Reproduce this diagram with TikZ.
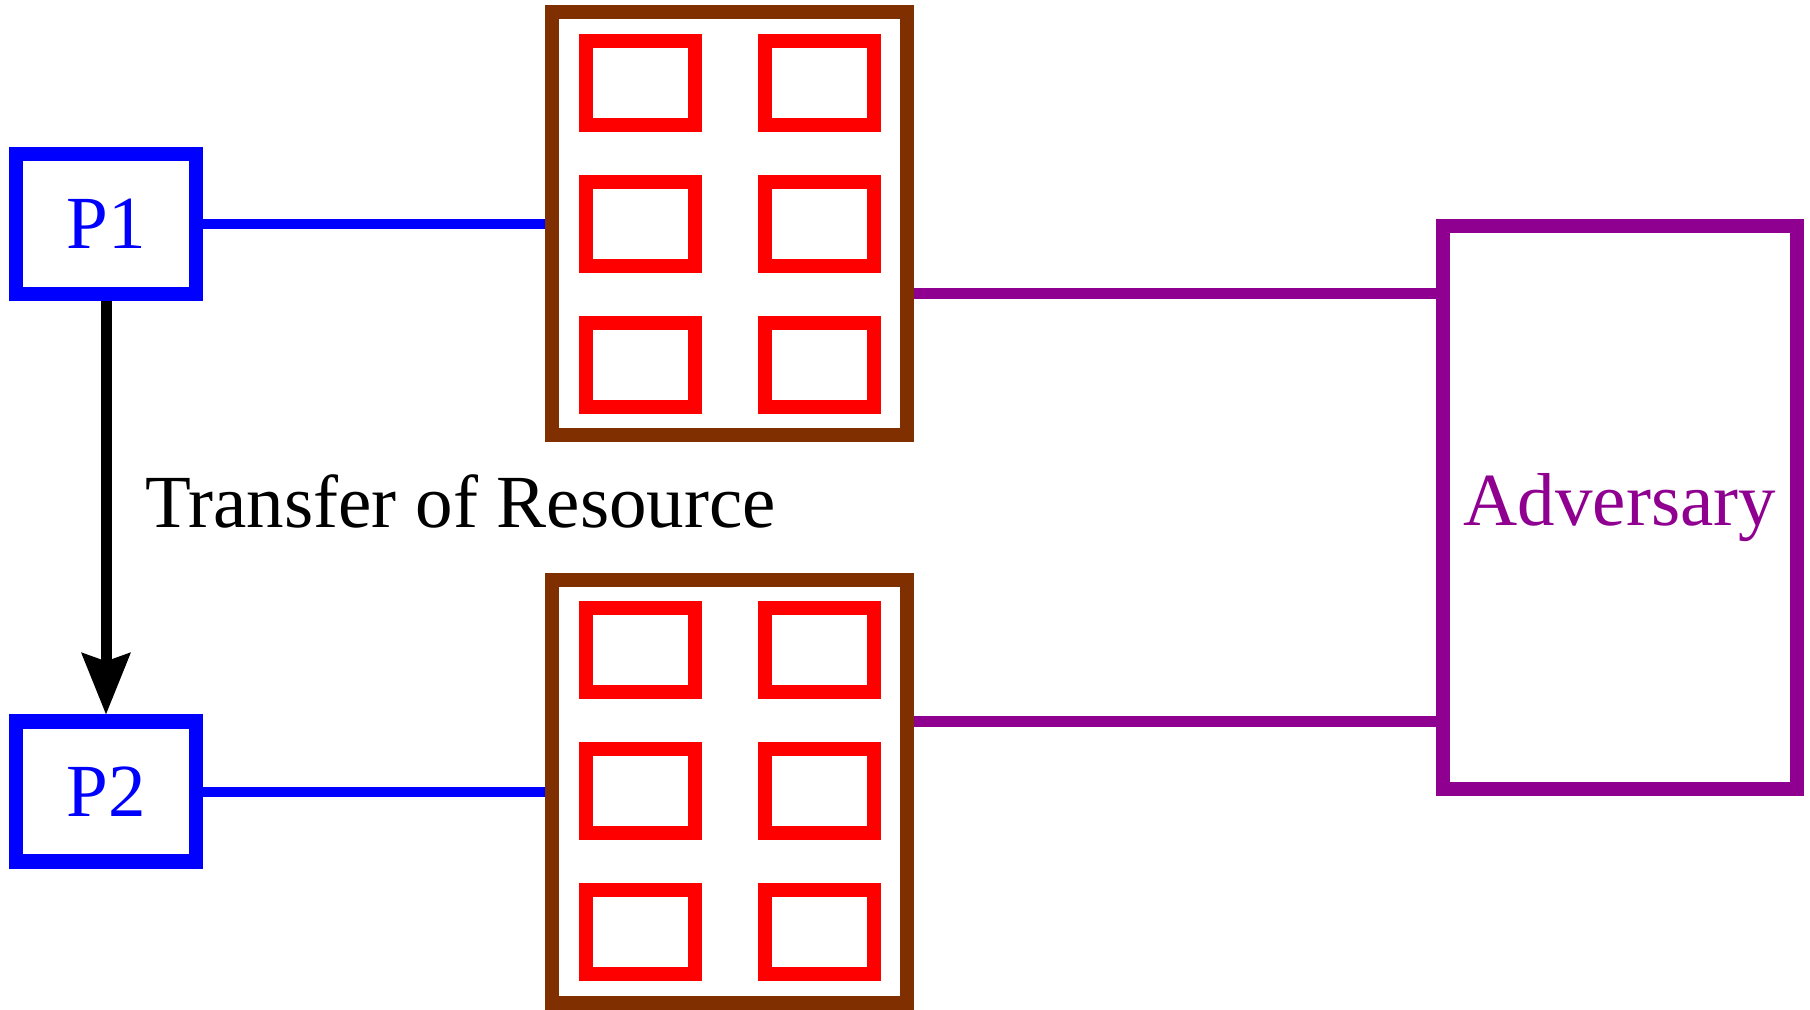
\documentclass[tikz,border=0pt]{standalone}
\usepackage{fontspec}
\setmainfont{Liberation Serif}
\usetikzlibrary{arrows.meta}
\usetikzlibrary{positioning}
\usetikzlibrary{calc}

\definecolor{poolbrown}{RGB}{128,48,0}
\definecolor{advpurple}{RGB}{144,0,144}
\newcommand{\figfont}{\fontsize{37.5pt}{45pt}\selectfont}

\begin{document}
\begin{tikzpicture}[auto,node distance=2cm,
  party node/.style={rectangle,draw=blue,line width=7.25pt,minimum width=90pt,minimum height=70pt,inner sep=0pt,text=blue,font=\figfont},
  pool node/.style={rectangle,draw=poolbrown,line width=7pt,minimum width=177.5pt,minimum height=211.5pt,inner sep=0pt},
  slot node/.style={rectangle,draw=red,line width=7pt,minimum width=54.5pt,minimum height=42pt,inner sep=0pt},
  adv node/.style={rectangle,draw=advpurple,line width=7pt,minimum width=176.75pt,minimum height=281.5pt,inner sep=0pt,text=advpurple,font=\figfont}]

  \useasboundingbox (0,0) rectangle (905pt,-505pt);

  \node[party node] (P1) at (53pt,-112pt) {P1};
  \node[party node] (P2) [below = 206.5pt of P1] {P2};
  \node[pool node] (RsT) [right = 171pt of P1] {};
  \node[pool node] (RsB) [below = 65pt of RsT] {};
  \coordinate (Mid) at ($(RsT.east)!0.5!(RsB.east)$);
  \node[adv node] (Adv) [right = 261pt of Mid] {Adversary};

  % resource slots, upper pool
  \node[slot node] (ST3) at ($(RsT)+(-44.75pt,0)$) {};
  \node[slot node] (ST1) [above = 21.5pt of ST3] {};
  \node[slot node] (ST5) [below = 21.5pt of ST3] {};
  \node[slot node] (ST4) at ($(RsT)+(44.75pt,0)$) {};
  \node[slot node] (ST2) [above = 21.5pt of ST4] {};
  \node[slot node] (ST6) [below = 21.5pt of ST4] {};

  % resource slots, lower pool
  \node[slot node] (SB3) at ($(RsB)+(-44.75pt,0)$) {};
  \node[slot node] (SB1) [above = 21.5pt of SB3] {};
  \node[slot node] (SB5) [below = 21.5pt of SB3] {};
  \node[slot node] (SB4) at ($(RsB)+(44.75pt,0)$) {};
  \node[slot node] (SB2) [above = 21.5pt of SB4] {};
  \node[slot node] (SB6) [below = 21.5pt of SB4] {};

  \tikzstyle{bluelink} = [draw=blue,line width=5pt]
  \tikzstyle{advlink} = [draw=advpurple,line width=5.5pt]
  \tikzstyle{transfer} = [draw=black,line width=5.5pt,-{Stealth[length=31pt,width=25pt,inset=4.5pt,line width=0pt]}]

  \path (P1) edge[bluelink] (RsT)
        (P2) edge[bluelink] (P2 -| RsB.west)
        (P1) edge[transfer] node (TrL) [right = 17pt, yshift=3pt, inner sep=0pt, font=\figfont] {Transfer of Resource} (P2);

  \coordinate (TopOut) at ([yshift=-35pt]RsT.east);
  \coordinate (BotOut) at ([yshift=35pt]RsB.east);
  \draw[advlink] (TopOut) -- (TopOut -| Adv.west);
  \draw[advlink] (BotOut) -- (BotOut -| Adv.west);

\end{tikzpicture}
\end{document}
